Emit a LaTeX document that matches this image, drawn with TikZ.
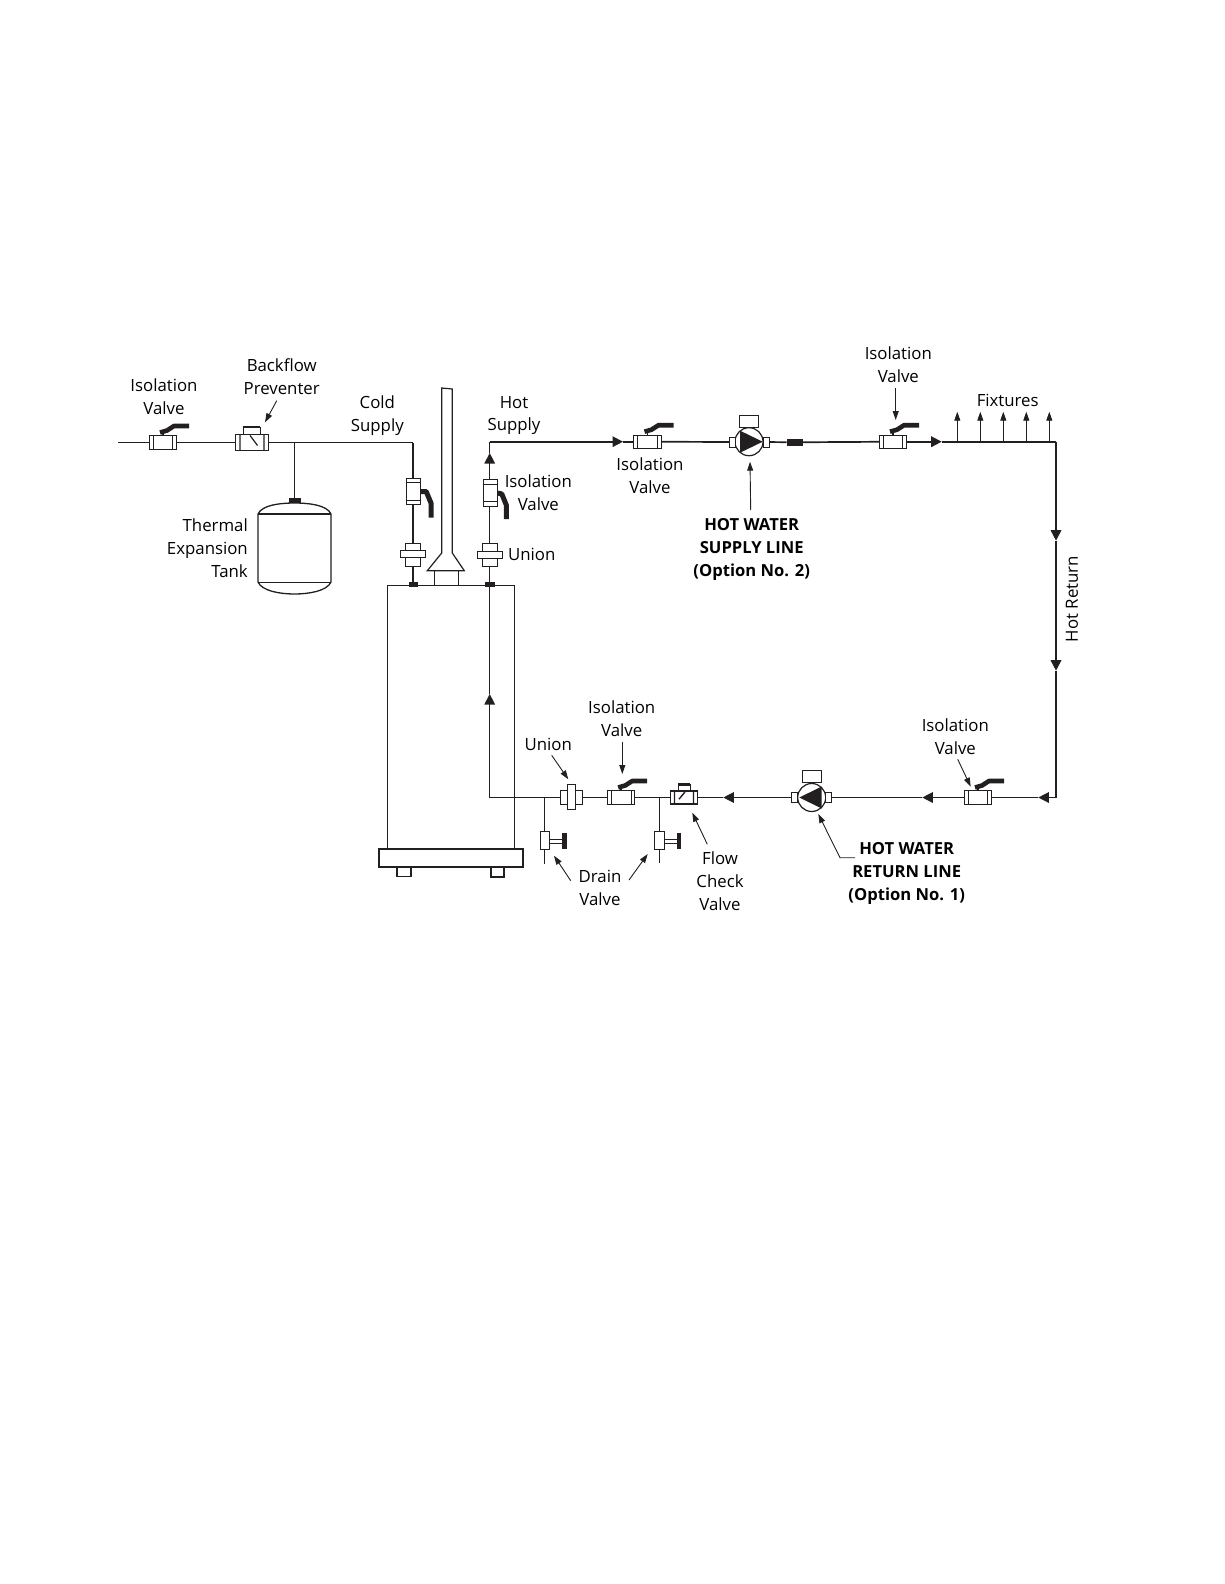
\documentclass[tikz,border=0pt]{standalone}
\usepackage{fontspec}
\setmainfont{Open Sans}
\usetikzlibrary{arrows,arrows.meta}

\begin{document}
\begin{tikzpicture}[
x=1pt,y=-1pt,
lbl/.style={font=\fontsize{16.8}{22.9}\selectfont,align=center,inner sep=0pt},
lblr/.style={lbl,align=right,anchor=east},
lblb/.style={font=\fontsize{16.6}{22.9}\selectfont\bfseries,align=center,inner sep=0pt},
part/.style={draw=ink,fill=white,line width=1pt,inner sep=0pt,outer sep=0pt},
blackpart/.style={draw=ink,fill=ink,inner sep=0pt,outer sep=0pt},
valveh/.style={part,minimum width=27.4pt,minimum height=13.3pt,
  path picture={\draw[ink,line width=0.9pt] ([xshift=3.8pt]path picture bounding box.north west) -- ([xshift=3.8pt]path picture bounding box.south west);
  \draw[ink,line width=0.9pt] ([xshift=-3.8pt]path picture bounding box.north east) -- ([xshift=-3.8pt]path picture bounding box.south east);}},
valvev/.style={part,line width=1.4pt,minimum width=14pt,minimum height=26.5pt,
  path picture={\draw[ink,line width=0.9pt] ([yshift=-4.5pt]path picture bounding box.north west) -- ([yshift=-4.5pt]path picture bounding box.north east);
  \draw[ink,line width=0.9pt] ([yshift=4.5pt]path picture bounding box.south west) -- ([yshift=4.5pt]path picture bounding box.south east);}},
handle/.style={draw=ink,line width=4.6pt,line join=round},
pipe/.style={draw=ink,line width=1.1pt},
hotpipe/.style={draw=ink,line width=1.7pt},
flow/.style={hotpipe,-{Triangle[length=10.5pt,width=10.5pt]}},
flowthin/.style={pipe,-{Triangle[length=10.5pt,width=10.5pt]}},
callout/.style={draw=ink,line width=0.9pt,-{Triangle[length=9pt,width=6pt]}},
wall/.style={part,line width=1.2pt}
]
\definecolor{ink}{RGB}{35,31,32}

\useasboundingbox (0,0) rectangle (1224,1584);

% coordinates of the pipe corners, flow arrows and callouts
\foreach \name/\x/\y in {
start/118/442.5, coldcorner/412.7/442.5, teeT/294.3/442.5,
hotcorner/489.7/441.7, hotlow/489.7/797.5, retcorner/1056/797.5, supcorner/1056/441.7,
fa/489.7/453, fb/623/441.7, fc/941.7/441.7, fd/1056/540.7, fe/1056/670.7,
ff/1038.3/797.5, fg/922.3/797.5, fh/723.3/797.5, fi/489.7/694,
teeA/544.3/797.5, teeB/659.3/797.5, endA/544.3/864.3, endB/659.3/863,
fxa/957.3/441.7, fxb/980.3/441.7, fxc/1003.3/441.7, fxd/1026.3/441.7, fxe/1049.3/441.7,
fya/957.3/411.7, fyb/980.3/411.7, fyc/1003.3/411.7, fyd/1026.3/411.7, fye/1049.3/411.7,
bfa/276.7/400.7, bfb/265/422.3, psa/750.7/510, psb/750/461.7,
tra/895.7/387.7, trb/895.7/420, rva/957.7/759.3, rvb/970.7/786.7,
rla/855/857.7, rlb/840/857.7, rlc/818.3/814,
una/551.7/755.3, unb/568.3/779.3, iva/622.3/741.7, ivb/622.3/774,
dra/570.7/880.7, drb/554/855.7, dsa/629/880, dsb/647.7/854,
fca/707.3/844.3, fcb/692.3/812.7}
  \coordinate (\name) at (\x,\y);

% heater
\node[wall,minimum width=126.6pt,minimum height=263.3pt] (heater) at (451,717.4) {};

\node[wall,line width=1.6pt,minimum width=144pt,minimum height=18pt] (base) at (450.7,858) {};

\node[wall,minimum width=14pt,minimum height=9.7pt] (footA) at (404,871.9) {};

\node[wall,line width=1.6pt,minimum width=13pt,minimum height=9.7pt] (footB) at (497.2,871.9) {};

\node[wall,minimum width=24pt,minimum height=15pt] (flueB) at (446.3,578.2) {};

\draw[wall,fill=none,line join=miter] (434.3,570.7) -- (427.3,570.7) -- (441.7,553) -- (441.7,388) -- (452.3,389) -- (452.3,553) -- (464.3,570.7) -- cycle;

% tank
\draw[wall,line width=1.3pt] (258,514) .. controls (262,505) and (280,503) .. (294.5,503) .. controls (309,503) and (327,505) .. (331,514) -- (331,582) .. controls (327,591) and (309,594) .. (294.5,594) .. controls (280,594) and (262,591) .. (258,582) -- cycle;

\draw[wall,line width=1.6pt,fill=none] (258,514) -- (331,514);

\draw[wall,line width=1pt,fill=none] (258,582) -- (331,582);

\node[blackpart,minimum width=11pt,minimum height=3.6pt] (tankcap) at (294.3,500.2) {};

% valves
\foreach \name/\x/\y in {isoA/163/442.5,isoB/647.5/441.7,isoC/893/441.7,isoD/978/797.5,isoE/621.2/797.5}{
  \node[valveh] (\name) at (\x,\y) {};
  \draw[ink,line width=1.5pt] (\name.center) ++(0,-6.7) -- ++(0,-3);
  \draw[handle] (\name.center) ++(-3,-10) -- ++(7,-2) -- ++(7,-4.5) -- ++(15,0);
}

\node[part,line width=1.2pt,minimum width=33pt,minimum height=16pt,
  path picture={\draw[ink] (-12.2,-8) -- (-12.2,8) (11.8,-8) -- (11.8,8) (-2.2,-7) -- (5.3,3);}] (bfp) at (252.2,442.5) {};

\node[part,line width=1pt,minimum width=17pt,minimum height=7pt,draw=ink] (bfpcap) at (251.5,430.5) {};

\draw[ink,line width=2.4pt] (bfpcap.north west) -- (bfpcap.north east);

\node[part,line width=1.4pt,minimum width=26.6pt,minimum height=13.3pt,
  path picture={\draw[ink] (-9.5,-7) -- (-9.5,7) (9.5,-7) -- (9.5,7) (-5,1.7) -- (1,-5.6);}] (chk) at (684,797.5) {};

\node[part,line width=1pt,minimum width=12pt,minimum height=6.4pt] (chkcap) at (684,787.5) {};

\draw[ink,line width=2.4pt] (chkcap.north west) -- (chkcap.north east);

\node[valvev] (coldval) at (413.7,491.5) {};

\draw[handle,line width=5pt] (coldval.center) ++(7.5,0) -- ++(5,0) -- ++(5,12) -- ++(0,14);

\node[valvev,line width=1pt] (hotval) at (490.3,493) {};

\draw[handle,line width=5pt] (hotval.center) ++(7.5,0) -- ++(4,1) -- ++(4.5,11) -- ++(0,14);

% unions
\node[part,minimum width=15pt,minimum height=23pt] (coldunB) at (413.2,554.5) {};

\node[part,minimum width=25pt,minimum height=6.5pt] (coldunA) at (412.7,554) {};

\node[part,minimum width=15pt,minimum height=23pt] (hotunB) at (490.2,554.5) {};

\node[part,minimum width=25.4pt,minimum height=7pt] (hotunA) at (490,554.5) {};

\node[part,minimum width=22.4pt,minimum height=14pt] (retunA) at (571.5,797.5) {};

\node[part,line width=1.2pt,minimum width=8pt,minimum height=25pt] (retunB) at (571.3,796.8) {};

\node[blackpart,minimum width=8pt,minimum height=4pt] (coldcap) at (413,584) {};

\node[blackpart,minimum width=9pt,minimum height=4pt] (hotcap) at (489.7,584) {};

\node[blackpart,minimum width=15pt,minimum height=6.7pt] (coupling) at (794.2,442.3) {};

% pumps
\node[part,line width=1.2pt,circle,minimum size=28pt] (pumpS) at (749,441.7) {};

\node[part,minimum width=19.4pt,minimum height=12pt] (pumpSbox) at (749,421) {};

\node[part,minimum width=6pt,minimum height=10pt] (pumpSl) at (732,442) {};

\node[part,minimum width=6pt,minimum height=10pt] (pumpSr) at (766,442) {};

\fill[ink] (740,430.7) -- (762.7,441.7) -- (740,452.7) -- cycle;

\node[part,line width=1.2pt,circle,minimum size=28pt] (pumpR) at (811.7,797.5) {};

\node[part,minimum width=19pt,minimum height=11.6pt] (pumpRbox) at (812.2,776.5) {};

\node[part,line width=1.4pt,minimum width=5.6pt,minimum height=10pt] (pumpRl) at (794.5,797.5) {};

\node[part,line width=1.4pt,minimum width=6pt,minimum height=10pt] (pumpRr) at (828.7,797.5) {};

\fill[ink] (821.7,786.5) -- (799.3,797.5) -- (821.7,808.5) -- cycle;

% drains
\foreach \name/\x/\hx in {drA/545/564,drB/659.5/678.8}{
  \node[part,minimum width=9.5pt,minimum height=18.7pt] (\name) at (\x,840.6) {};
  \node[blackpart,minimum width=3.4pt,minimum height=14.4pt] (\name h) at (\hx,840.5) {};
  \draw[ink,line width=1pt] (\name.east |- 0,839) -- (\name h.west |- 0,839);
  \draw[ink,line width=1pt] (\name.east |- 0,843.3) -- (\name h.west |- 0,843.3);
}

% cold pipes
\draw[pipe] (start) -- (isoA);

\draw[pipe] (isoA) -- (bfp);

\draw[pipe] (bfp.east) -- (coldcorner);

\draw[pipe] (teeT) -- (tankcap);

\draw[hotpipe] (coldcorner) -- (coldcorner |- coldval.north);

\draw[hotpipe] (coldcorner |- coldval.south) -- (coldcorner |- coldunB.north);

\draw[hotpipe] (coldcorner |- coldunB.south) -- (coldcorner |- coldcap.north);

% hot pipes
\draw[pipe] (hotcap) -- (hotcap |- hotunB.south);

\draw[pipe] (hotunB.north -| hotcap) -- (hotcap |- hotval.south);

\draw[flow,line width=1.3pt] (hotval.north -| hotcap) -- (fa);

\draw[hotpipe,line width=1.3pt] (fa) -- (hotcorner);

\draw[flow] (hotcorner) -- (fb);

\draw[hotpipe] (fb) -- (isoB);

\draw[hotpipe] (isoB) -- (pumpSl);

\draw[hotpipe] (pumpSr) -- (coupling);

\draw[hotpipe] (coupling) -- (isoC);

\draw[flow] (isoC) -- (fc);

\draw[hotpipe] (fc) -- (supcorner);

\draw[flow] (supcorner) -- (fd);

\draw[flow] (fd) -- (fe);

\draw[hotpipe] (fe) -- (retcorner);

\draw[flowthin,line width=1.3pt,shorten <=-0.8pt] (retcorner) -- (ff);

\draw[pipe,line width=1.3pt] (ff) -- (isoD);

\draw[flowthin,line width=1.3pt] (isoD) -- (fg);

\draw[pipe,line width=1.3pt] (fg) -- (pumpRr);

\draw[flowthin,line width=1.3pt] (pumpRl) -- (fh);

\draw[pipe,line width=1.3pt] (fh) -- (chk);

\draw[pipe,line width=1.3pt] (chk) -- (isoE);

\draw[pipe,line width=1.3pt] (isoE) -- (retunA);

\draw[pipe,line width=1.3pt] (retunA) -- (hotlow);

\draw[flowthin] (hotlow) -- (fi);

\draw[pipe] (fi) -- (hotcap);

\draw[pipe] (teeA) -- (teeA |- drA.north);

\draw[pipe] (teeA |- drA.south) -- (endA);

\draw[pipe] (teeB) -- (teeB |- drB.north);

\draw[pipe] (teeB |- drB.south) -- (endB);

% fixtures
\foreach \a/\b in {fxa/fya,fxb/fyb,fxc/fyc,fxd/fyd,fxe/fye}
  \draw[callout] (\a) -- (\b);

% callouts
\foreach \a/\b in {bfa/bfb,psa/psb,tra/trb,rva/rvb,una/unb,iva/ivb,dra/drb,dsa/dsb,fca/fcb}
  \draw[callout] (\a) -- (\b);

\draw[callout] (rla) -- (rlb) -- (rlc);

% labels
\node[lbl] (lA) at (164,396.4) {Isolation\\Valve};

\node[lbl] (lB) at (281.7,377) {Backflow\\Preventer};

\node[lbl] (lC) at (377.3,415.5) {Cold\\Supply};

\node[lblr] (lD) at (248,548) {Thermal\\Expansion\\Tank};

\node[lbl] (lE) at (514,415.5) {Hot\\Supply};

\node[lbl] (lF) at (538.3,492.8) {Isolation\\Valve};

\node[lbl] (lG) at (531.7,554.3) {Union};

\node[lbl] (lH) at (650,475.5) {Isolation\\Valve};

\node[lblb] (lI) at (751.7,549.5) {HOT WATER\\SUPPLY LINE\\(Option No. 2)};

\node[lbl] (lJ) at (898.3,365) {Isolation\\Valve};

\node[lbl] (lK) at (1007.7,400) {Fixtures};

\node[lbl,rotate=90] (lL) at (1072,599) {Hot Return};

\node[lbl] (lM) at (955.3,736.5) {Isolation\\Valve};

\node[lblb] (lN) at (906.7,873.5) {HOT WATER\\RETURN LINE\\(Option No. 1)};

\node[lbl] (lO) at (621.7,719) {Isolation\\Valve};

\node[lbl] (lP) at (548.3,744.3) {Union};

\node[lbl] (lQ) at (600,888) {Drain\\Valve};

\node[lbl] (lR) at (720,881) {Flow\\Check\\Valve};

\end{tikzpicture}
\end{document}
